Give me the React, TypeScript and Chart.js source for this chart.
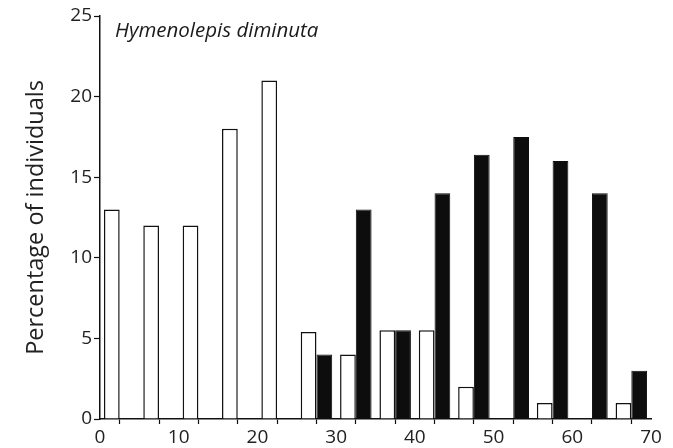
import React, { useEffect, useRef } from "react";
import { Chart, registerables } from "chart.js";

Chart.register(...registerables);

// Bin centres (bins of width 5, from 0 to 70)
const binCentres = [2.5, 7.5, 12.5, 17.5, 22.5, 27.5, 32.5, 37.5, 42.5, 47.5, 52.5, 57.5, 62.5, 67.5];
// White bars (first group)
const whiteValues = [13, 12, 12, 18, 21, 5.4, 4, 5.5, 5.5, 2, 0, 1, 0, 1];
// Black bars (second group)
const blackValues = [0, 0, 0, 0, 0, 4, 13, 5.5, 14, 16.4, 17.5, 16, 14, 3];

const xTicksLabelled = [0, 10, 20, 30, 40, 50, 60, 70];
const yTicks = [0, 5, 10, 15, 20, 25];

const titleText = "Hymenolepis diminuta";
const yTitle = "Percentage of individuals";

const FONT = "'Open Sans', 'Noto Sans', sans-serif";

export default function App() {
  const ref = useRef<HTMLCanvasElement | null>(null);

  useEffect(() => {
    const canvas = ref.current;
    if (!canvas) return;

    const titlePlugin = {
      id: "innerTitle",
      afterDraw(chart: any) {
        const { ctx, chartArea } = chart;
        ctx.save();
        ctx.font = `italic 20.5px ${FONT}`;
        ctx.fillStyle = "#1a1a1a";
        ctx.textBaseline = "middle";
        ctx.textAlign = "left";
        ctx.fillText(titleText, chartArea.left + 15, chartArea.top + 15);
        ctx.restore();
      },
    };

    const chart = new Chart(canvas, {
      type: "bar",
      data: {
        datasets: [
          {
            label: "white",
            data: binCentres.map((x, i) => ({ x, y: whiteValues[i] })),
            backgroundColor: "#ffffff",
            borderColor: "#111111",
            borderWidth: 1.5,
            borderSkipped: "bottom",
            categoryPercentage: 0.8,
            barPercentage: 1.0,
          },
          {
            label: "black",
            data: binCentres.map((x, i) => ({ x, y: blackValues[i] })),
            backgroundColor: "#0d0d0d",
            borderColor: "#0d0d0d",
            borderWidth: 1,
            categoryPercentage: 0.8,
            barPercentage: 1.0,
          },
        ],
      },
      options: {
        responsive: false,
        animation: false,
        layout: { padding: { left: 0, right: 22, top: 16, bottom: 0 } },
        plugins: {
          legend: { display: false },
          tooltip: { enabled: false },
        },
        scales: {
          x: {
            type: "linear",
            min: 0,
            max: 70,
            offset: false,
            grid: {
              drawOnChartArea: false,
              drawTicks: true,
              tickLength: 5,
              tickColor: "#111",
              tickWidth: 1.2,
            },
            border: { display: true, color: "#111", width: 1.5 },
            ticks: {
              stepSize: 5,
              autoSkip: false,
              maxRotation: 0,
              padding: 2,
              color: "#222",
              font: { family: FONT, size: 19 },
              callback: (v: any) => (xTicksLabelled.includes(Number(v)) ? String(v) : ""),
            },
            afterFit: (s: any) => {
              s.height = 29;
            },
          },
          y: {
            min: 0,
            max: 25,
            grid: {
              drawOnChartArea: false,
              drawTicks: true,
              tickLength: 6,
              tickColor: "#111",
              tickWidth: 1.2,
            },
            border: { display: true, color: "#111", width: 1.5 },
            ticks: {
              stepSize: 5,
              padding: 2,
              color: "#222",
              font: { family: FONT, size: 19 },
              callback: (v: any) => (yTicks.includes(Number(v)) ? String(v) : ""),
            },
            title: {
              display: true,
              text: yTitle,
              color: "#222",
              font: { family: FONT, size: 23.5 },
              padding: { top: 22, bottom: 0 },
            },
            afterFit: (s: any) => {
              s.width = 100;
            },
          },
        },
      },
      plugins: [titlePlugin],
    });

    return () => chart.destroy();
  }, []);

  return (
    <div style={{ position: "absolute", left: 0, top: 0, width: 673, height: 448, background: "#fff" }}>
      <canvas ref={ref} width={673} height={448} />
    </div>
  );
}
